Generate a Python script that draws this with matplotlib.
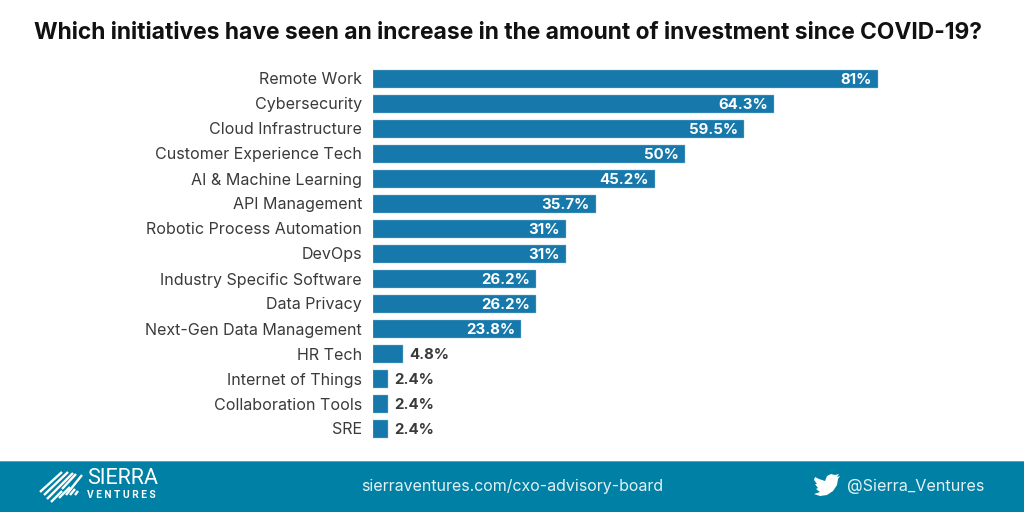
"""Investment by initiative bar chart with Sierra footer band."""
import matplotlib
matplotlib.use("Agg")
import matplotlib.pyplot as plt
from matplotlib.patches import Polygon, Rectangle

plt.rcParams["font.family"] = ["Inter", "DejaVu Sans"]

initiatives = [
    "Remote Work", "Cybersecurity", "Cloud Infrastructure",
    "Customer Experience Tech", "AI & Machine Learning", "API Management",
    "Robotic Process Automation", "DevOps", "Industry Specific Software",
    "Data Privacy", "Next-Gen Data Management", "HR Tech",
    "Internet of Things", "Collaboration Tools", "SRE",
]
shares = [81, 64.3, 59.5, 50, 45.2, 35.7, 31, 31, 26.2, 26.2, 23.8, 4.8, 2.4, 2.4, 2.4]

_BAR = "#1779AB"
_BAND = "#0080A4"
_TEXT = "#3A3A3A"
W, H = 1024, 512

fig = plt.figure(figsize=(W / 100, H / 100), dpi=100, facecolor="white")

# pixel coordinate layer for title and footer
bg = fig.add_axes([0, 0, 1, 1])
bg.set_xlim(0, W)
bg.set_ylim(H, 0)
bg.axis("off")

bg.text(508.5, 33, "Which initiatives have seen an increase in the amount of investment since COVID-19?",
        ha="center", va="center", fontsize=16.42, fontweight="bold", color="#111111")

bg.add_patch(Rectangle((0, 461), W, 51, color=_BAND, lw=0))
bg.add_patch(Rectangle((0, 461), W, 1, color="#4FA6BF", lw=0))

# logo stripes
stripes = [(40, 492, 62, 472), (44, 495, 68, 472), (47, 499, 73, 473), (51, 502, 62, 491),
           (62, 489, 76, 474), (59, 498, 70, 487), (66, 495, 82, 475), (70, 495, 75, 489),
           (75, 495, 78, 491)]
for x0, y0, x1, y1 in stripes:
    bg.plot([x0, x1], [y0, y1], color="white", lw=1.7, solid_capstyle="butt")
bg.text(87, 479, "SIERRA", ha="left", va="center", fontsize=15.5, color="white",
        family=["Roboto", "DejaVu Sans"])
bg.text(87, 495, "V E N T U R E S", ha="left", va="center", fontsize=7.4, color="white",
        fontweight="bold", family=["Roboto", "DejaVu Sans"])

bg.text(512, 486.5, "sierraventures.com/cxo-advisory-board", ha="center", va="center",
        fontsize=11.5, color="#E3F1F5")
bg.text(984, 486, "@Sierra_Ventures", ha="right", va="center", fontsize=11.65, color="#E3F1F5")

bird = [(815, 477), (819, 479), (825, 481), (827, 476), (831, 474), (835, 475), (839, 474),
        (837, 477), (840, 476), (838, 479), (837, 485), (833, 491), (827, 495), (820, 496),
        (814, 494), (820, 492), (816, 489), (818, 488), (815, 484), (817, 484), (814, 480)]
bg.add_patch(Polygon(bird, closed=True, color="white", lw=0))

# bar axes, positioned so one unit and one row land on the reference pixels
ax = fig.add_axes([373 / W, 1 - 441 / H, (W - 373) / W, 375 / H])
ax.patch.set_alpha(0)
ax.set_xlim(0, (W - 373) / 6.235)
ax.set_ylim(len(shares) - 0.5, -0.5)
ax.barh(initiatives, shares, height=0.72, color=_BAR, edgecolor="#8DBCD5", linewidth=0.3)
ax.tick_params(axis="y", length=0, pad=8, labelsize=11.55, labelcolor=_TEXT)
ax.xaxis.set_visible(False)
for s in ax.spines.values():
    s.set_visible(False)

for i, v in enumerate(shares):
    label = f"{v:g}%"
    if v > 10:
        ax.text(v - 1, i + 0.07, label, ha="right", va="center", fontsize=10.8, fontweight="bold", color="white")
    else:
        ax.text(v + 1, i + 0.07, label, ha="left", va="center", fontsize=10.8, fontweight="bold", color=_TEXT)

fig.savefig("out.png", dpi=100)
plt.close(fig)
